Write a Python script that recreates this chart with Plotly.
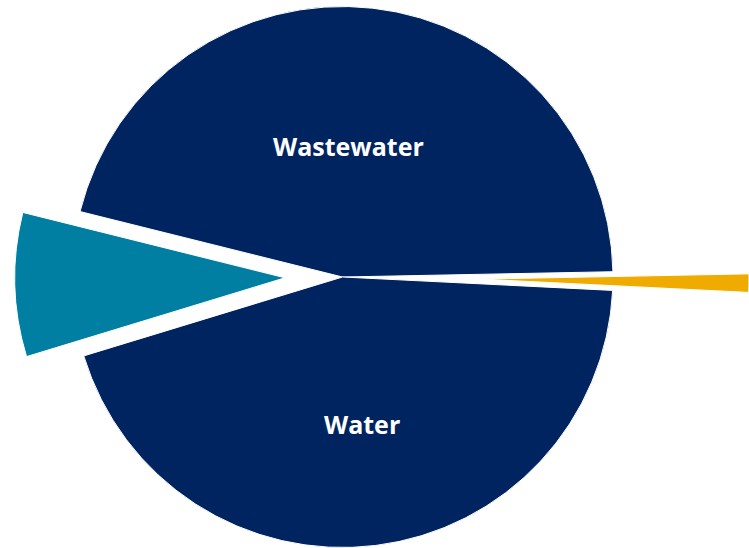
import plotly.graph_objects as go

# Share of spend by service (clockwise order starting at the teal boundary)
categories = ["Wastewater", "Other", "Water", "Stormwater"]
shares = [45.8, 1.1, 44.5, 8.6]
slice_colors = ["#00245F", "#F0AB00", "#00245F", "#007FA3"]
shown_labels = ["Wastewater", "", "Water", ""]

W, H = 749, 548
TRANSPARENT = "rgba(0,0,0,0)"
ROTATION = -76  # first slice starts just above the teal wedge

# label anchor points (pixels) for the two large slices
LABEL_XY = {"Wastewater": (348.5, 146.0), "Water": (361.5, 423.5)}


def domain_for(cx, cy, r):
    """Pie domain (paper units) for a pie centred at pixel (cx, cy) with radius r."""
    return dict(
        x=[max(0.0, (cx - r) / W), min(1.0, (cx + r) / W)],
        y=[max(0.0, (H - cy - r) / H), min(1.0, (H - cy + r) / H)],
    )


def pie_layer(visible, cx, cy, r):
    colors = [c if v else TRANSPARENT for c, v in zip(slice_colors, visible)]
    widths = [1 if v else 0 for v in visible]
    return go.Pie(
        labels=categories,
        values=shares,
        sort=False,
        direction="clockwise",
        rotation=ROTATION,
        domain=domain_for(cx, cy, r),
        marker=dict(colors=colors, line=dict(color="white", width=widths)),
        textinfo="none",
        hoverinfo="label+percent",
        showlegend=False,
    )


fig = go.Figure()
# main body: the two large navy slices
fig.add_trace(pie_layer([True, False, True, False], 342.5, 277.0, 270.5))
# teal slice pulled out to the left
fig.add_trace(pie_layer([False, False, False, True], 285.0, 277.8, 270.2))
# gold sliver pulled far out to the right
fig.add_trace(pie_layer([False, True, False, False], 480.4, 279.1, 268.6))

for name in shown_labels:
    if not name:
        continue
    px, py = LABEL_XY[name]
    fig.add_annotation(
        text=name,
        x=px / W,
        y=(H - py) / H,
        xref="paper",
        yref="paper",
        xanchor="center",
        yanchor="middle",
        showarrow=False,
        font=dict(family="Open Sans", size=25, color="white", weight="bold"),
    )

fig.update_layout(
    width=W,
    height=H,
    margin=dict(l=0, r=0, t=0, b=0),
    paper_bgcolor="white",
    plot_bgcolor="white",
    showlegend=False,
)

fig.write_html("out.html")
